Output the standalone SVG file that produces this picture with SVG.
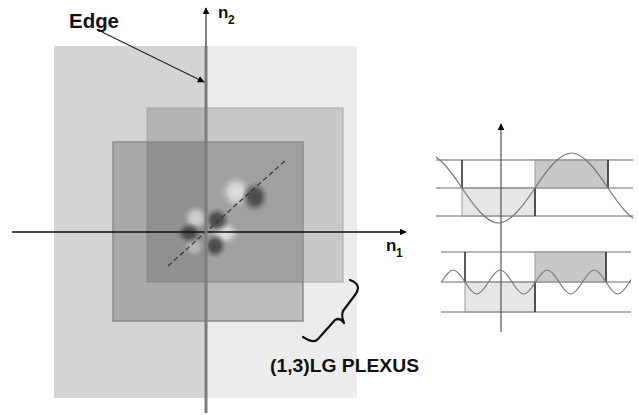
<svg xmlns="http://www.w3.org/2000/svg" width="638" height="415" viewBox="0 0 638 415">
<style>
.lbl{font-family:"Liberation Sans",Arial,sans-serif;font-weight:bold;fill:#111}
.hl{stroke:#9a9a9a;stroke-width:1.5}
.dv{stroke:#333;stroke-width:1.6}
.sine{fill:none;stroke:#777;stroke-width:1.2}
</style>
<defs>
<marker id="ah" viewBox="0 0 10 10" refX="9" refY="5" markerWidth="7" markerHeight="7" orient="auto" markerUnits="userSpaceOnUse">
<path d="M0,0 L10,5 L0,10 z" fill="#000"/>
</marker>
<radialGradient id="dk"><stop offset="0" stop-color="#454545"/><stop offset="0.45" stop-color="#4e4e4e" stop-opacity="0.92"/><stop offset="0.75" stop-color="#6c6c6c" stop-opacity="0.45"/><stop offset="1" stop-color="#888" stop-opacity="0"/></radialGradient>
<radialGradient id="lt"><stop offset="0" stop-color="#e4e4e4"/><stop offset="0.45" stop-color="#d8d8d8" stop-opacity="0.9"/><stop offset="0.75" stop-color="#c4c4c4" stop-opacity="0.45"/><stop offset="1" stop-color="#b0b0b0" stop-opacity="0"/></radialGradient>
<clipPath id="c1"><rect x="436" y="140" width="197" height="100"/></clipPath>
<clipPath id="c2"><rect x="441" y="240" width="190" height="80"/></clipPath>
</defs>
<rect width="638" height="415" fill="#fff"/>
<g id="plexus">
<rect x="54" y="46" width="152" height="352" fill="#d4d4d4"/>
<rect x="206" y="46" width="151" height="352" fill="#ececec"/>
<rect x="147" y="108" width="196" height="174" fill="#000" fill-opacity="0.15" stroke="#a6a6a6" stroke-width="1"/>
<rect x="113" y="142" width="190" height="179" fill="#000" fill-opacity="0.2" stroke="#8a8a8a" stroke-width="1.5"/>
</g>
<g id="kernel">
<ellipse cx="236" cy="192" rx="16" ry="17" fill="url(#lt)"/>
<ellipse cx="196" cy="218" rx="13" ry="13" fill="url(#lt)" opacity="0.8"/>
<ellipse cx="225" cy="233" rx="15" ry="12" fill="url(#lt)"/>
<ellipse cx="194" cy="247" rx="11" ry="10" fill="url(#lt)" opacity="0.5"/>
<ellipse cx="255" cy="197" rx="14" ry="16" fill="url(#dk)"/>
<ellipse cx="217" cy="220" rx="13" ry="13" fill="url(#dk)"/>
<ellipse cx="189" cy="233" rx="13" ry="11" fill="url(#dk)"/>
<ellipse cx="215" cy="246" rx="12" ry="13" fill="url(#dk)"/>
</g>
<g id="connectors">
<line x1="168" y1="266" x2="287" y2="159" stroke="#333" stroke-width="1.2" stroke-dasharray="5,3"/>
<line x1="12" y1="232" x2="406" y2="232" stroke="#111" stroke-width="1.3" marker-end="url(#ah)"/>
<line x1="206" y1="413" x2="206" y2="46" stroke="#7c7c7c" stroke-width="3"/>
<line x1="206" y1="47" x2="206" y2="8" stroke="#666" stroke-width="1.6" marker-end="url(#ah)"/>
<line x1="102" y1="32" x2="204" y2="82" stroke="#222" stroke-width="1.2" marker-end="url(#ah)"/>
<path d="M350,280 Q358,283 358,288 Q358,291 355,295 L343,311 Q341,316 344,323 M344,323 Q340,317 335,320 L318,339 Q314,344 303,337" fill="none" stroke="#111" stroke-width="2.2" stroke-linejoin="round" stroke-linecap="round"/>
</g>
<g id="labels">
<text class="lbl" x="69" y="28" font-size="20" textLength="50" lengthAdjust="spacingAndGlyphs">Edge</text>
<text class="lbl" x="218" y="18" font-size="17">n</text>
<text class="lbl" x="228" y="24" font-size="12">2</text>
<text class="lbl" x="386" y="251" font-size="17">n</text>
<text class="lbl" x="396" y="257" font-size="12">1</text>
<text class="lbl" x="270" y="372" font-size="18" textLength="149" lengthAdjust="spacingAndGlyphs">(1,3)LG PLEXUS</text>
</g>
<g id="waves">
<rect x="462" y="188" width="73" height="28" fill="#e6e6e6" stroke="#aaa" stroke-width="1.2"/>
<rect x="535" y="160" width="73" height="28" fill="#c8c8c8" stroke="#aaa" stroke-width="1.2"/>
<rect x="465" y="282" width="70" height="30" fill="#e6e6e6" stroke="#aaa" stroke-width="1.2"/>
<rect x="535" y="252" width="71" height="30" fill="#c8c8c8" stroke="#aaa" stroke-width="1.2"/>
<line class="hl" x1="436" y1="160" x2="633" y2="160"/>
<line class="hl" x1="436" y1="188" x2="633" y2="188"/>
<line class="hl" x1="436" y1="216" x2="633" y2="216"/>
<line class="hl" x1="441" y1="252" x2="631" y2="252"/>
<line class="hl" x1="441" y1="282" x2="631" y2="282"/>
<line class="hl" x1="441" y1="312" x2="631" y2="312"/>
<line class="dv" x1="462" y1="160" x2="462" y2="188"/>
<line class="dv" x1="535" y1="188" x2="535" y2="216"/>
<line class="dv" x1="608" y1="160" x2="608" y2="188"/>
<line class="dv" x1="465" y1="252" x2="465" y2="282"/>
<line class="dv" x1="535" y1="282" x2="535" y2="312"/>
<line class="dv" x1="606" y1="252" x2="606" y2="282"/>
<line x1="501" y1="332" x2="501" y2="124" stroke="#555" stroke-width="1.2" marker-end="url(#ah)"/>
<path class="sine" clip-path="url(#c1)" d="M425.5,153 C437.4,153 450.1,170.07 462,188 S486.6,223 498.5,223 S523.1,205.93 535,188 S559.6,153 571.5,153 S596.1,170.07 608,188 S632.6,223 644.5,223"/>
<path class="sine" clip-path="url(#c2)" d="M441.5,282 C445.33,275.85 449.42,270 453.25,270 S461.17,275.85 465,282 S472.92,294 476.75,294 S484.67,288.15 488.5,282 S496.42,270 500.25,270 S508.17,275.85 512,282 S519.92,294 523.75,294 S531.67,288.15 535.5,282 S543.42,270 547.25,270 S555.17,275.85 559,282 S566.92,294 570.75,294 S578.67,288.15 582.5,282 S590.42,270 594.25,270 S602.17,275.85 606,282 S613.92,294 617.75,294 S625.67,288.15 629.5,282 S637.42,270 641.25,270"/>
</g>
</svg>
